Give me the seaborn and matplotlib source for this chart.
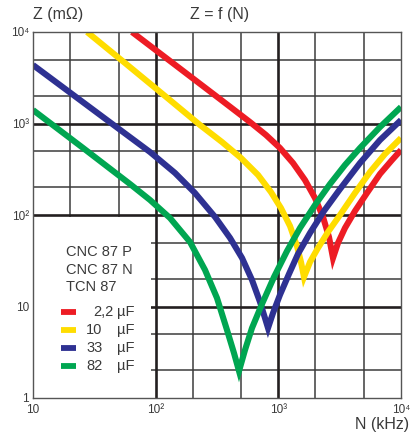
import numpy as np
import pandas as pd
import matplotlib
matplotlib.use("Agg")
import matplotlib.pyplot as plt
from matplotlib.ticker import LogLocator, NullFormatter
from matplotlib.patches import Rectangle
from matplotlib.lines import Line2D
import seaborn as sns

# frequency (kHz) / impedance (mOhm)
f_22 = [64.1, 131, 334, 587, 793, 1031, 1317, 1649, 1991, 2313, 2588, 2790,
        3064, 3494, 4216, 5282, 6742, 8445, 10000]
z_22 = [10000, 4820, 1853, 1038, 749, 540, 370, 241, 153, 95.1, 57.5, 33.9,
        49.4, 72.1, 110.6, 174, 281, 399, 513]

f_10 = [27.6, 56.2, 119.2, 229.8, 347, 496, 683, 871, 1051, 1245, 1419, 1530, 1619,
        1812, 2105, 2540, 3182, 4216, 5587, 7404, 10000]
z_10 = [10000, 4584, 1998, 963, 628, 420, 274, 178, 119, 75.8, 45.8, 30.6, 21.0,
        30.6, 43.6, 65.2, 100, 174, 295, 464, 694]

f_33 = [10, 46.6, 89.9, 143.8, 209, 305, 404, 506, 610, 709, 778, 824,
        905, 1031, 1222, 1446, 1812, 2356, 3182, 4631, 6742, 10000]
z_33 = [4358, 939, 488, 288, 174, 95.1, 56.1, 33.9, 19.5, 11.2, 7.49, 5.82,
        8.49, 13.4, 22.7, 37.5, 63.6, 110.6, 192, 370, 660, 1092]

f_82 = [10, 25.6, 61.8, 89.9, 130.9, 190.5, 252.5, 316, 381.5, 435, 478,
        535, 610, 736, 922, 1177, 1502, 1991, 2637, 3494, 4631, 6742, 10000]
z_82 = [1404, 540, 218, 146, 92.7, 50.7, 25.1, 12.4, 5.54, 3.10, 1.97,
        3.35, 5.82, 10.65, 21.0, 40.4, 72.1, 128.6, 218, 352, 540, 915, 1514]

caps = ["2,2", "10", "33", "82"]
colors = ["#ed1c24", "#ffdd00", "#2e3192", "#00a651"]

df = pd.concat([
    pd.DataFrame({"f": f, "Z": z, "cap": c})
    for f, z, c in zip([f_22, f_10, f_33, f_82], [z_22, z_10, z_33, z_82], caps)
])

sns.set_style("white")
plt.rcParams["font.family"] = ["Liberation Sans Narrow", "Liberation Sans", "DejaVu Sans"]
txt = "#3a3a3a"

fig = plt.figure(figsize=(4.11, 4.38), dpi=100)
ax = fig.add_axes([33 / 411, 1 - 398 / 438, 368 / 411, 366 / 438])
ax.set_xscale("log")
ax.set_yscale("log")
ax.set_xlim(10, 1e4)
ax.set_ylim(1, 1e4)

# minor grid (2 and 5 of each decade)
ax.xaxis.set_minor_locator(LogLocator(base=10, subs=(2, 5)))
ax.yaxis.set_minor_locator(LogLocator(base=10, subs=(2, 5)))
ax.xaxis.set_minor_formatter(NullFormatter())
ax.yaxis.set_minor_formatter(NullFormatter())
ax.grid(which="minor", color="#3c3c3c", lw=1.1, zorder=1)
ax.grid(which="major", visible=False)
ax.set_axisbelow(True)

# heavy decade lines
for v in [100, 1000]:
    ax.axvline(v, color="#231f20", lw=1.9, zorder=2)
    ax.axhline(v, color="#231f20", lw=1.9, zorder=2)
ax.axhline(10, color="#231f20", lw=1.9, zorder=1)

# blank box for the legend
ax.add_patch(Rectangle((10, 1), 91.6 - 10, 96 - 1, facecolor="white", edgecolor="none", zorder=1.5))

sns.lineplot(data=df, x="f", y="Z", hue="cap", palette=colors, hue_order=caps,
             estimator=None, sort=False, lw=4.4, legend=False, ax=ax, zorder=3,
             solid_joinstyle="miter", solid_capstyle="butt")

ax.set_xticks([10, 100, 1000, 10000])
ax.set_xticklabels(["10", "10²", "10³", "10⁴"])
ax.set_yticks([1, 10, 100, 1000, 10000])
ax.set_yticklabels(["1", "10", "10²", "10³", "10⁴"])
ax.tick_params(which="both", length=0, labelsize=8.5, labelcolor=txt)
ax.tick_params(axis="x", pad=4)
ax.tick_params(axis="y", pad=3)
ax.set_xlabel("")
ax.set_ylabel("")

for s in ax.spines.values():
    s.set_color("#555555")
    s.set_linewidth(1.0)
    s.set_zorder(4)

fig.text(33 / 411, 1 - 14 / 438, "Z (mΩ)", fontsize=11.5, color=txt, va="center", ha="left")
fig.text(220 / 411, 1 - 14 / 438, "Z = f (N)", fontsize=11.5, color=txt, va="center", ha="center")
fig.text(409 / 411, 1 - 425 / 438, "N (kHz)", fontsize=11.5, color=txt, va="center", ha="right")

for i, s in enumerate(["CNC 87 P", "CNC 87 N", "TCN 87"]):
    fig.text(66 / 411, 1 - (252 + 17.5 * i) / 438, s, fontsize=10.5, color=txt, va="center", ha="left")

for i, (c, col) in enumerate(zip(caps, colors)):
    y = 1 - (312 + 18 * i) / 438
    fig.add_artist(Line2D([61 / 411, 76 / 411], [y, y], color=col, lw=4.2, solid_capstyle="butt"))
    x0 = 93 if c == "2,2" else 86
    fig.text(x0 / 411, y, c, fontsize=10.5, color=txt, va="center", ha="left")
    fig.text(117 / 411, y, "µF", fontsize=10.5, color=txt, va="center", ha="left")

fig.savefig("out.png", dpi=100)
